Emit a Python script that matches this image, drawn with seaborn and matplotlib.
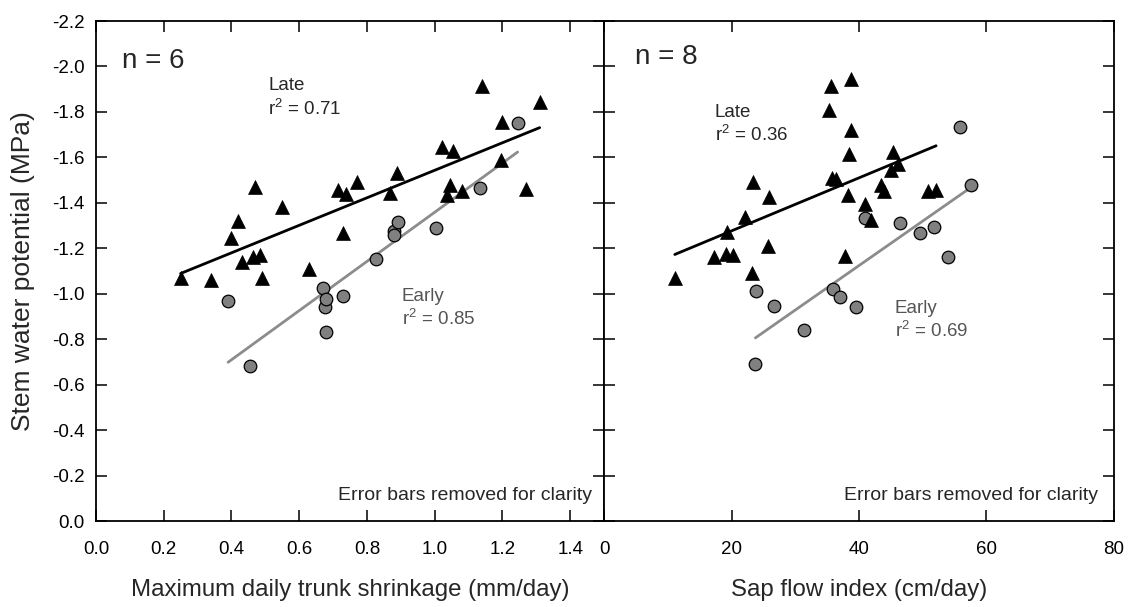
import numpy as np
import pandas as pd
import matplotlib
matplotlib.use("Agg")
import matplotlib.pyplot as plt
import seaborn as sns
from matplotlib.ticker import FixedLocator, FormatStrFormatter

# ---------------- data ----------------
# Left panel: maximum daily trunk shrinkage (mm/day) vs stem water potential (MPa)
shrink_late_x = [0.25, 0.34, 0.40, 0.42, 0.43, 0.465, 0.47, 0.485, 0.49, 0.55, 0.63,
                 0.716, 0.73, 0.737, 0.77, 0.867, 0.89, 1.023, 1.035, 1.044, 1.055,
                 1.08, 1.139, 1.197, 1.20, 1.27, 1.31]
shrink_late_y = [-1.07, -1.06, -1.245, -1.32, -1.14, -1.16, -1.47, -1.17, -1.07, -1.38, -1.11,
                 -1.456, -1.267, -1.44, -1.49, -1.445, -1.53, -1.647, -1.434, -1.478, -1.63,
                 -1.45, -1.914, -1.59, -1.757, -1.46, -1.845]
shrink_early_x = [0.39, 0.456, 0.67, 0.675, 0.68, 0.68, 0.728, 0.827, 0.88, 0.88,
                  0.893, 1.003, 1.133, 1.245]
shrink_early_y = [-0.968, -0.68, -1.026, -0.943, -0.975, -0.83, -0.99, -1.153, -1.277, -1.258,
                  -1.317, -1.289, -1.465, -1.753]

# Right panel: sap flow index (cm/day) vs stem water potential (MPa)
sap_late_x = [11.1, 17.2, 19.1, 19.3, 20.2, 22.1, 23.2, 23.4, 25.7, 25.9, 35.3, 35.6,
              35.7, 36.4, 37.8, 38.3, 38.4, 38.7, 38.8, 41.0, 41.9, 43.5, 43.9, 44.95,
              45.3, 46.1, 50.9, 52.1]
sap_late_y = [-1.068, -1.163, -1.175, -1.273, -1.17, -1.339, -1.093, -1.493, -1.21, -1.424,
              -1.808, -1.914, -1.508, -1.503, -1.165, -1.434, -1.615, -1.943, -1.72, -1.395,
              -1.324, -1.478, -1.453, -1.544, -1.625, -1.569, -1.452, -1.456]
sap_early_x = [23.75, 23.9, 26.7, 31.4, 36.0, 37.0, 39.6, 41.0, 46.4, 49.6, 51.7,
               54.0, 55.9, 57.5]
sap_early_y = [-0.69, -1.013, -0.946, -0.84, -1.02, -0.987, -0.943, -1.332, -1.313, -1.269,
               -1.292, -1.16, -1.735, -1.478]

y_ticks = [0.0, -0.2, -0.4, -0.6, -0.8, -1.0, -1.2, -1.4, -1.6, -1.8, -2.0, -2.2]
left_x_ticks = [0.0, 0.2, 0.4, 0.6, 0.8, 1.0, 1.2, 1.4]
right_x_ticks = [0, 20, 40, 60, 80]

panels = [
    dict(late_x=shrink_late_x, late_y=shrink_late_y, early_x=shrink_early_x, early_y=shrink_early_y,
         xlim=(0, 1.5), xticks=left_x_ticks, fmt='%.1f',
         xlabel="Maximum daily trunk shrinkage (mm/day)",
         n_text="n = 6", n_pos=(0.051, 0.906),
         late_x_pos=0.509, late_y1=-1.896, late_y2=-1.786, late_r="r$^2$ = 0.71",
         early_x_pos=0.903, early_y1=-0.966, early_y2=-0.862, early_r="r$^2$ = 0.85",
         err_x=0.976),
    dict(late_x=sap_late_x, late_y=sap_late_y, early_x=sap_early_x, early_y=sap_early_y,
         xlim=(0, 80), xticks=right_x_ticks, fmt='%d',
         xlabel="Sap flow index (cm/day)",
         n_text="n = 8", n_pos=(0.061, 0.914),
         late_x_pos=17.4, late_y1=-1.779, late_y2=-1.673, late_r="r$^2$ = 0.36",
         early_x_pos=45.6, early_y1=-0.914, early_y2=-0.811, early_r="r$^2$ = 0.69",
         err_x=0.969),
]

# ---------------- style ----------------
sns.set_style("ticks")
plt.rcParams['font.family'] = ['Liberation Sans', 'DejaVu Sans']
plt.rcParams['mathtext.fontset'] = 'custom'
plt.rcParams['mathtext.rm'] = 'Liberation Sans'
plt.rcParams['mathtext.it'] = 'Liberation Sans:italic'
plt.rcParams['axes.unicode_minus'] = False

fig = plt.figure(figsize=(11.3, 6.07), dpi=100)
W, H = 1130, 607
ax_l = fig.add_axes([96 / W, 86 / H, 508 / W, 500 / H])
ax_r = fig.add_axes([604 / W, 86 / H, 510 / W, 500 / H])

early_color = "#8c8c8c"
text_gray = "#555555"
ann_size = 13.5

for ax, p in zip([ax_l, ax_r], panels):
    late_df = pd.DataFrame({"x": p["late_x"], "y": p["late_y"]})
    early_df = pd.DataFrame({"x": p["early_x"], "y": p["early_y"]})

    sns.regplot(data=late_df, x="x", y="y", ax=ax, scatter=False, ci=None,
                line_kws=dict(color="black", lw=2.0, zorder=2))
    sns.regplot(data=early_df, x="x", y="y", ax=ax, scatter=False, ci=None,
                line_kws=dict(color=early_color, lw=2.0, zorder=2))
    sns.scatterplot(data=early_df, x="x", y="y", ax=ax, marker="o", s=82,
                    color="#808080", edgecolor="black", linewidth=0.9, zorder=3)
    sns.scatterplot(data=late_df, x="x", y="y", ax=ax, marker="^", s=100,
                    color="black", edgecolor="black", linewidth=0.5, zorder=4)

    ax.set_xlim(*p["xlim"])
    ax.set_ylim(0, -2.2)
    ax.xaxis.set_major_locator(FixedLocator(p["xticks"]))
    ax.xaxis.set_major_formatter(FormatStrFormatter(p["fmt"]))
    ax.yaxis.set_major_locator(FixedLocator(y_ticks))
    ax.yaxis.set_major_formatter(FormatStrFormatter('%.1f'))
    ax.tick_params(direction="in", length=8, width=1.1, top=True, right=True,
                   labelsize=13.5, colors="black")
    ax.tick_params(axis="x", pad=14.5)
    ax.tick_params(axis="y", pad=8)
    for s in ax.spines.values():
        s.set_visible(True)
        s.set_linewidth(1.3)
        s.set_color("black")
    ax.set_xlabel(p["xlabel"], fontsize=17.3)
    ax.xaxis.label.set_va("center")
    ax.xaxis.set_label_coords(0.5, -0.138)
    ax.set_ylabel("")

    ax.text(p["n_pos"][0], p["n_pos"][1], p["n_text"], transform=ax.transAxes,
            fontsize=20, ha="left", va="baseline")
    ax.text(p["late_x_pos"], p["late_y1"], "Late", fontsize=ann_size,
            ha="left", va="baseline")
    ax.text(p["late_x_pos"], p["late_y2"], p["late_r"], fontsize=ann_size,
            ha="left", va="baseline")
    ax.text(p["early_x_pos"], p["early_y1"], "Early", fontsize=ann_size,
            ha="left", va="baseline", color=text_gray)
    ax.text(p["early_x_pos"], p["early_y2"], p["early_r"], fontsize=ann_size,
            ha="left", va="baseline", color=text_gray)
    ax.text(p["err_x"], 0.042, "Error bars removed for clarity", transform=ax.transAxes,
            fontsize=14, ha="right", va="baseline")

ax_l.set_ylabel("Stem water potential (MPa)", fontsize=19)
ax_l.yaxis.label.set_va("center")
ax_l.yaxis.set_label_coords((23 - 96) / 508, 0.5)
ax_r.tick_params(labelleft=False)

fig.savefig("out.png", dpi=100)
